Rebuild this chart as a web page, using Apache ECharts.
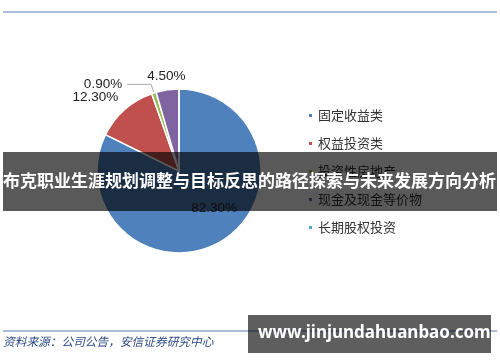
<!DOCTYPE html>
<html>
<head>
<meta charset="utf-8">
<script src="https://cdn.jsdelivr.net/npm/echarts@6/dist/echarts.min.js"></script>
<style>
html,body{margin:0;padding:0;background:#fff;}
#chart{width:500px;height:362px;}
</style>
</head>
<body>
<div id="chart"></div>
<script>
var categories = ['固定收益类', '权益投资类', '投资性房地产', '现金及现金等价物', '长期股权投资'];
var values = [82.3, 12.3, 0.9, 4.5, 0];
var colors = ['#4f81bd', '#c0504d', '#9bbb59', '#8064a2', '#4bacc6'];
var titleText = '布克职业生涯规划调整与目标反思的路径探索与未来发展方向分析';
var sourceText = '资料来源：公司公告，安信证券研究中心';
var siteText = 'www.jinjundahuanbao.com';

// per-item label placement styles
var labelStyles = [
  {label: {position: 'inside', offset: [12, 0]}, labelLine: {show: false}},
  {label: {position: 'outside'}, labelLine: {show: false, length: 17, length2: -10}},
  {label: {position: 'outside', lineHeight: 12}, labelLine: {show: true, length: 9, length2: 24}},
  {label: {position: 'outside'}, labelLine: {show: false, length: 14, length2: -25}},
  {label: {show: false}, labelLine: {show: false}}
];

var data = categories.map(function (c, i) {
  var d = {name: c, value: values[i], itemStyle: {color: colors[i]}};
  d.label = labelStyles[i].label;
  d.labelLine = labelStyles[i].labelLine;
  return d;
});

var chart = echarts.init(document.getElementById('chart'), null, {renderer: 'canvas'});
chart.setOption({
  animation: false,
  legend: {
    orient: 'vertical',
    left: 302,
    top: 104,
    itemWidth: 5,
    itemHeight: 5,
    itemGap: 15,
    icon: 'rect',
    data: categories,
    textStyle: {fontSize: 13, color: '#333', fontFamily: 'Noto Sans CJK SC'}
  },
  series: [{
    type: 'pie',
    center: [179, 171],
    radius: [0, 82],
    startAngle: 90,
    clockwise: true,
    avoidLabelOverlap: false,
    stillShowZeroSum: true,
    minShowLabelAngle: 0,
    labelLayout: {hideOverlap: false},
    itemStyle: {borderColor: '#fff', borderWidth: 1.5},
    label: {
      formatter: function (p) { return p.value.toFixed(2) + '%'; },
      fontSize: 13.5,
      color: '#222',
      fontFamily: 'Liberation Sans'
    },
    labelLine: {lineStyle: {color: '#aaa', width: 1}},
    emphasis: {disabled: true},
    data: data
  }],
  graphic: [
    {type: 'line', z: 50, shape: {x1: 3, y1: 12, x2: 497, y2: 12}, style: {stroke: '#8eaad6', lineWidth: 1.5}},
    {type: 'line', z: 50, shape: {x1: 3, y1: 331, x2: 497, y2: 331}, style: {stroke: '#8ea4c8', lineWidth: 1.5}},
    {type: 'text', z: 50, left: 3, top: 336, style: {text: sourceText, fill: '#2c4a86', font: 'italic 11.7px "Noto Sans CJK SC"'}},
    {type: 'rect', z: 100, shape: {x: 3, y: 152, width: 494, height: 59}, style: {fill: 'rgba(0,0,0,0.65)'}},
    {type: 'text', z: 101, left: 3, top: 172, style: {text: titleText, fill: '#fff', font: 'bold 17px "Noto Sans CJK SC"'}},
    {type: 'rect', z: 100, shape: {x: 248, y: 315, width: 243, height: 38}, style: {fill: 'rgba(0,0,0,0.63)'}},
    {type: 'text', z: 101, left: 258, top: 325, style: {text: siteText, fill: '#fff', font: 'bold 17px "Noto Sans"'}}
  ]
});
</script>
</body>
</html>
